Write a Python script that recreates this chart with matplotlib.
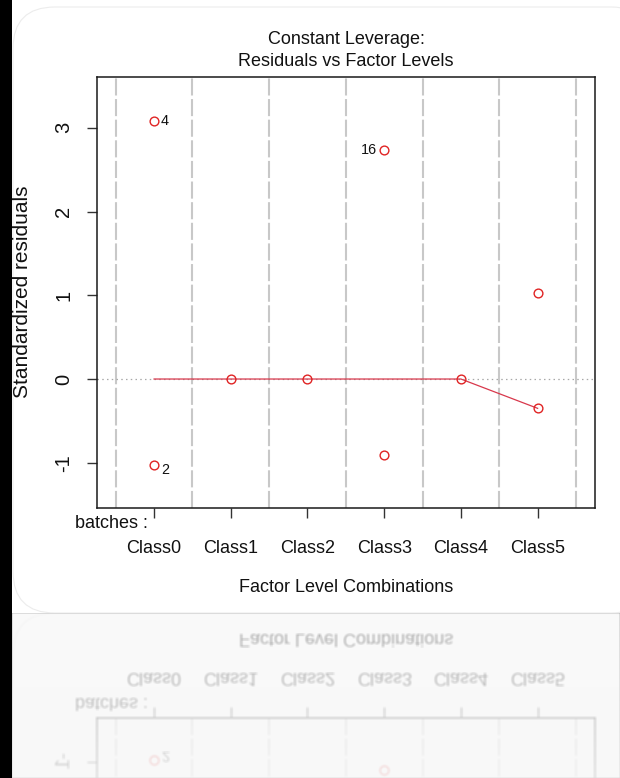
import numpy as np
import matplotlib
matplotlib.use("Agg")
import matplotlib.pyplot as plt
from matplotlib import font_manager
from matplotlib.patches import FancyBboxPatch, Rectangle

plt.rcParams['font.family'] = ['Liberation Sans', 'DejaVu Sans']
installed = {f.name for f in font_manager.fontManager.ttflist}
# condensed face for the horizontal labels, if available
if 'Liberation Sans Narrow' in installed:
    HFONT, HSIZE = ['Liberation Sans Narrow', 'Liberation Sans'], 15.5
else:
    HFONT, HSIZE = ['Liberation Sans', 'DejaVu Sans'], 13.0
VFONT, VSIZE = ['Liberation Sans', 'DejaVu Sans'], 15.0

# ---- data -------------------------------------------------------------
classes = ["Class0", "Class1", "Class2", "Class3", "Class4", "Class5"]
# factor level (index into classes) and standardized residual of each observation
obs_level = [0, 0, 1, 2, 3, 3, 4, 5, 5]
obs_resid = [3.08, -1.03, 0.0, 0.0, 2.74, -0.91, 0.0, 1.03, -0.35]
# observation ids shown next to the most extreme residuals
obs_ids = [4, 2, None, None, 16, None, None, None, None]
# smoother through the residuals at each factor level
smooth_fit = [0.0, 0.0, 0.0, 0.0, 0.0, -0.35]
yticks = [-1, 0, 1, 2, 3]
factor_name = "batches :"

W, H, DPI = 620, 778, 100
fig = plt.figure(figsize=(W / DPI, H / DPI), dpi=DPI, facecolor="white")


def fx(px):
    return px / W


def fy(py):
    return 1 - py / H


# rounded white panel with a faint outline
panel = FancyBboxPatch((0.13, 1.65), 6.4, 6.06,
                       boxstyle="round,pad=0,rounding_size=0.42",
                       transform=fig.dpi_scale_trans, facecolor="white",
                       edgecolor="#ececec", linewidth=0.8, zorder=-2)
fig.patches.append(panel)
# reflected panel underneath
refl_panel = FancyBboxPatch((0.13, -6.0), 6.4, 7.62,
                            boxstyle="round,pad=0,rounding_size=0.42",
                            transform=fig.dpi_scale_trans, facecolor="#f7f7f7",
                            edgecolor="#f0f0f0", linewidth=0.8, zorder=-2)
fig.patches.append(refl_panel)

# ---- main axes --------------------------------------------------------
ax_l, ax_r, ax_t, ax_b = 97, 595, 77, 508
ax = fig.add_axes([fx(ax_l), fy(ax_b), fx(ax_r - ax_l), (ax_b - ax_t) / H])
ax.set_facecolor("white")

xpos = np.arange(1, len(classes) + 1)
ax.set_xlim(0.256, 6.748)
ax.set_ylim(-1.540, 3.606)

# level separators and zero reference line
for v in np.arange(0.5, len(classes) + 1, 1.0):
    ax.axvline(v, color="#c8c8c8", lw=1.5, ls=(0, (8.2, 1.7)), zorder=1)
ax.axhline(0, color="#a8a8a8", lw=0.9, ls=(0, (1.2, 2.6)), zorder=1)

# smoother
ax.plot(xpos, smooth_fit, color="#d8384c", lw=0.9, zorder=2)

# residuals
ox = np.array([xpos[i] for i in obs_level], dtype=float)
oy = np.array(obs_resid)
ax.plot(ox, oy, ls="none", marker="o", ms=6.3, mfc="none", mec="#e02424",
        mew=1.0, zorder=3)

# observation ids
xmid = np.mean(ax.get_xlim())
for x, y, lab in zip(ox, oy, obs_ids):
    if lab is None:
        continue
    dy = -3.6 if y < 0 else 0
    if x <= xmid:
        ax.annotate(str(lab), (x, y), xytext=(5, dy), textcoords="offset points",
                    ha="left", va="center", fontsize=HSIZE * 0.8,
                    family=HFONT, color="#111111")
    else:
        ax.annotate(str(lab), (x, y), xytext=(-5, dy), textcoords="offset points",
                    ha="right", va="center", fontsize=HSIZE * 0.8,
                    family=HFONT, color="#111111")

for s in ax.spines.values():
    s.set_color("#1a1a1a")
    s.set_linewidth(1.1)

ax.set_yticks(yticks)
ax.set_yticklabels([str(t) for t in yticks], rotation=90, va="center",
                   family=VFONT, fontsize=14.5)
ax.set_xticks(xpos)
ax.set_xticklabels(classes, family=HFONT, fontsize=HSIZE)
ax.tick_params(axis="y", length=7.2, width=1.0, color="#333333", pad=10,
               labelcolor="#111111")
ax.tick_params(axis="x", length=7.2, width=1.0, color="#333333", pad=16,
               labelcolor="#111111")

# ---- titles and axis labels ---------------------------------------------
ht = dict(family=HFONT, fontsize=HSIZE, color="#111111")
fig.text(fx(346), fy(40), "Constant Leverage:", ha="center", va="center", **ht)
fig.text(fx(346), fy(62), "Residuals vs Factor Levels", ha="center",
         va="center", **ht)
fig.text(fx(23), fy(292), "Standardized residuals", rotation=90, ha="center",
         va="center", family=VFONT, fontsize=VSIZE, color="#111111")
fig.text(fx(346), fy(587), "Factor Level Combinations", ha="center",
         va="center", **ht)
fig.text(fx(75), fy(524), factor_name, ha="left", va="center", **ht)

# black strip down the left edge
fig.patches.append(Rectangle((0, 0), fx(12), 1, transform=fig.transFigure,
                             facecolor="black", edgecolor="none", zorder=5))

# ---- mirrored, fading reflection below the panel -----------------------
fig.canvas.draw()
buf = np.asarray(fig.canvas.buffer_rgba())[:, :, :3].astype(float) / 255.0
mirror = 613
rows = H - mirror  # rows from mirror line to bottom
src = buf[mirror - rows:mirror][::-1].copy()
# soften slightly
k = np.ones(3) / 3.0
src = np.apply_along_axis(lambda c: np.convolve(c, k, mode="same"), 0, src)
src = np.apply_along_axis(lambda c: np.convolve(c, k, mode="same"), 1, src)
alpha = np.linspace(0.34, 0.14, rows)[:, None, None]
base = np.ones_like(src) * (247 / 255.0)
refl = base * (1 - alpha) + src * alpha
rgba = np.concatenate([refl, np.ones(refl.shape[:2] + (1,))], axis=2)
rgba[:, :12, :3] = 0.0
fig.figimage(rgba, xo=0, yo=0, origin="upper", zorder=4)

fig.savefig("out.png", dpi=DPI, facecolor="white")
